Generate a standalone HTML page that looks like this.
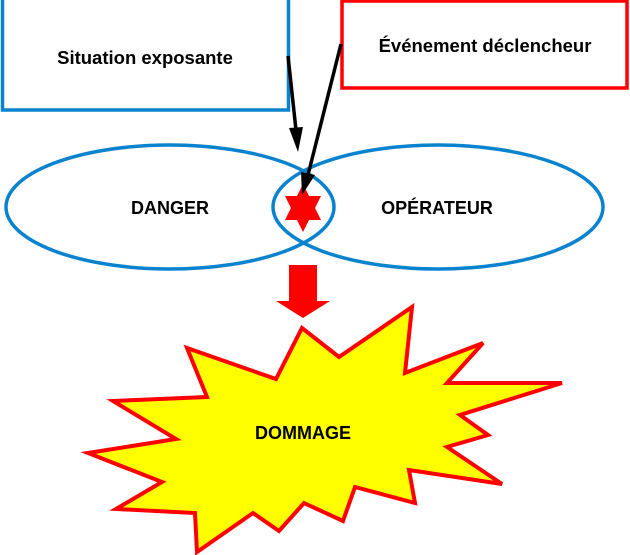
<!DOCTYPE html>
<html><head><style>body{margin:0;background:#fff}svg{display:block}</style></head><body>
<svg width="630" height="555" xmlns="http://www.w3.org/2000/svg" font-family="Liberation Sans, sans-serif" font-weight="bold">
<rect x="2.5" y="-2" width="286" height="112" fill="#fff" stroke="#0a83cf" stroke-width="3.5"/>
<rect x="342" y="1" width="285" height="87" fill="#fff" stroke="#ff0000" stroke-width="3.5"/>
<text x="145" y="64" font-size="18.5" text-anchor="middle">Situation exposante</text>
<text x="485" y="52" font-size="18.5" text-anchor="middle">Événement déclencheur</text>
<ellipse cx="170" cy="207" rx="164" ry="62" fill="none" stroke="#0a83cf" stroke-width="3.5"/>
<ellipse cx="438" cy="207" rx="165" ry="62" fill="none" stroke="#0a83cf" stroke-width="3.5"/>
<text x="170" y="214" font-size="18" text-anchor="middle">DANGER</text>
<text x="437" y="214" font-size="18" text-anchor="middle">OPÉRATEUR</text>
<polygon points="303,184 309,196 321,196 315,208 321,220 309,220 303,232 297,220 285,220 291,208 285,196 297,196" fill="#ff0000"/>
<line x1="288" y1="56" x2="296" y2="130" stroke="#000" stroke-width="3.5"/>
<polygon points="289,128 303,127 298,152" fill="#000"/>
<line x1="341" y1="44" x2="308" y2="175" stroke="#000" stroke-width="3.5"/>
<polygon points="301,172 315,175 302,195" fill="#000"/>
<rect x="289" y="265" width="28" height="37" fill="#ff0000"/>
<polygon points="276,301 330,301 303,318" fill="#ff0000"/>
<polygon points="302,328 339,357 412,307 405,373 483,343 447,383 562,383 460,415 488,435 447,447 502,484 409,470 415,503 355,487 343,521 304,503 279,531 253,513 197,552 195,513 116,509 162,482 88,453 176,439 113,401 207,397 187,348 276,379" fill="#ffff00" stroke="#ff0000" stroke-width="4" stroke-linejoin="miter"/>
<text x="303" y="439" font-size="18" text-anchor="middle">DOMMAGE</text>
</svg>
</body></html>
